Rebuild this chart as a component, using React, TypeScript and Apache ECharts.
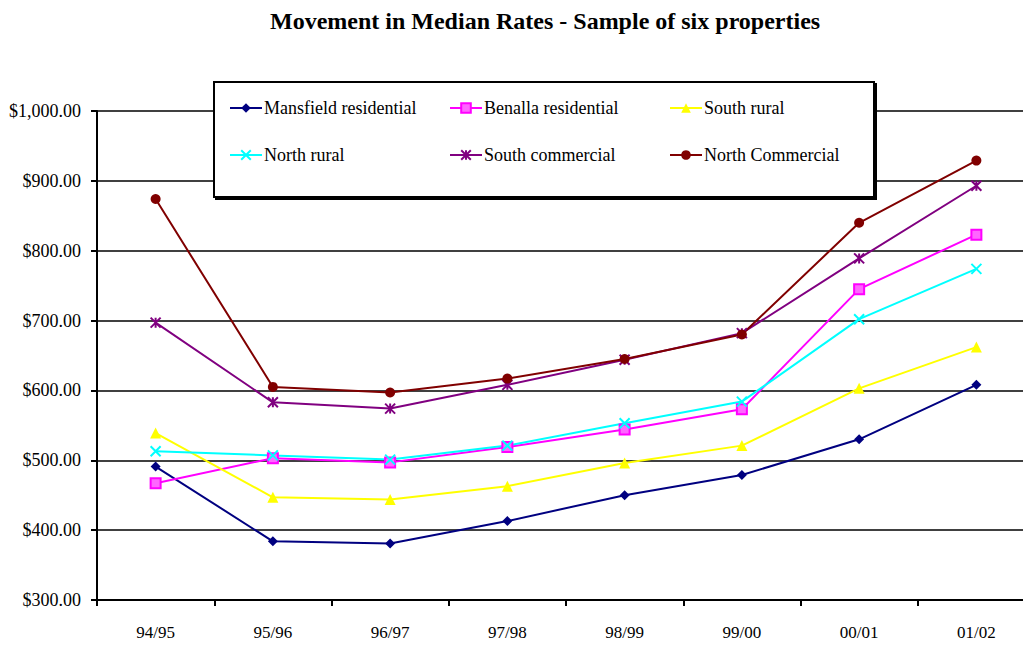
import React, { useEffect, useRef } from "react";
import * as echarts from "echarts";

const categories = ["94/95", "95/96", "96/97", "97/98", "98/99", "99/00", "00/01", "01/02"];
const seriesNames = [
  "Mansfield residential",
  "Benalla residential",
  "South rural",
  "North rural",
  "South commercial",
  "North Commercial",
];
const mansfield = [491, 384, 381, 413, 450, 479, 530, 608];
const benalla = [467, 503, 497, 519, 544, 573, 745, 823];
const southRural = [539, 447, 444, 463, 496, 521, 603, 662];
const northRural = [513, 507, 501, 521, 553, 584, 702, 774];
const southCommercial = [697, 583, 574, 608, 644, 682, 789, 893];
const northCommercial = [874, 605, 597, 617, 645, 680, 840, 929];
const yTicks = [300, 400, 500, 600, 700, 800, 900, 1000];

const X_PATH = "path://M0,0L10,10M10,0L0,10";
const STAR_PATH = "path://M5,0L5,10M0,0L10,10M10,0L0,10";

const FONT = "Liberation Serif";

export default function App() {
  const ref = useRef<HTMLDivElement>(null);
  useEffect(() => {
    if (!ref.current) return;
    const chart = echarts.init(ref.current, undefined, { renderer: "svg" });
    const values = [mansfield, benalla, southRural, northRural, southCommercial, northCommercial];
    const colors = ["#000080", "#FF00FF", "#FFFF00", "#00FFFF", "#800080", "#800000"];
    const symbols = ["diamond", "rect", "triangle", X_PATH, STAR_PATH, "circle"];
    const sizes = [10, 10, 11, 10, 10, 10];
    const series = values.map((d, i) => {
      const isStroke = i === 3 || i === 4;
      return {
        name: seriesNames[i],
        type: "line",
        data: d,
        symbol: symbols[i],
        symbolSize: sizes[i],
        showAllSymbol: true,
        lineStyle: { color: colors[i], width: 2 },
        itemStyle: isStroke
          ? { color: colors[i], borderColor: colors[i], borderWidth: 2 }
          : i === 1
          ? { color: "#FF66FF", borderColor: colors[i], borderWidth: 2 }
          : { color: colors[i], borderWidth: 0 },
        z: 3,
      };
    });
    const colX = [229, 449, 669];
    const rowY = [99, 146];
    const legends = seriesNames.map((n, i) => ({
      data: [n],
      left: colX[i % 3],
      top: rowY[Math.floor(i / 3)],
      padding: 0,
      itemWidth: 32,
      itemHeight: 12,
      itemGap: 0,
      z: 12,
      textStyle: { fontFamily: FONT, fontSize: 18, color: "#000", padding: [0, 0, 0, -3] },
    }));
    chart.setOption({
      animation: false,
      title: {
        text: "Movement in Median Rates - Sample of six properties",
        left: 265,
        top: 4,
        textStyle: { fontFamily: FONT, fontSize: 24, fontWeight: "bold", color: "#000" },
      },
      legend: legends,
      graphic: [
        {
          type: "rect",
          shape: { x: 214, y: 82, width: 660, height: 115 },
          style: {
            fill: "#fff",
            stroke: "#000",
            lineWidth: 2,
            shadowColor: "#000",
            shadowOffsetX: 2,
            shadowOffsetY: 2,
            shadowBlur: 0,
          },
          z: 10,
        },
      ],
      grid: { left: 97, top: 111, height: 489, width: 938, outerBoundsMode: "none" },
      xAxis: {
        type: "category",
        data: categories,
        boundaryGap: true,
        axisLine: { lineStyle: { color: "#000", width: 2 } },
        axisTick: { show: true, length: 6, lineStyle: { color: "#000", width: 2 } },
        axisLabel: { fontFamily: FONT, fontSize: 17, color: "#000", margin: 24 },
        splitLine: { show: false },
      },
      yAxis: {
        type: "value",
        min: yTicks[0],
        max: yTicks[yTicks.length - 1],
        interval: 100,
        axisLine: { show: true, lineStyle: { color: "#000", width: 2 } },
        axisTick: { show: true, length: 6, lineStyle: { color: "#000", width: 2 } },
        axisLabel: {
          fontFamily: FONT,
          fontSize: 18,
          color: "#000",
          margin: 16,
          formatter: (v: number) =>
            "$" + v.toLocaleString("en-US", { minimumFractionDigits: 2, maximumFractionDigits: 2 }),
        },
        splitLine: { show: true, lineStyle: { color: "#000", width: 1.5 } },
      },
      series,
    });
    return () => chart.dispose();
  }, []);
  return <div ref={ref} style={{ width: 1023, height: 657, position: "absolute", left: 0, top: 0 }} />;
}
